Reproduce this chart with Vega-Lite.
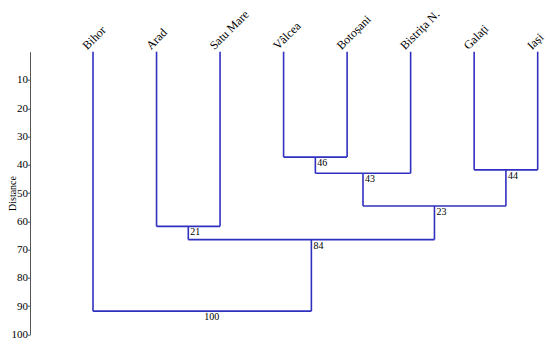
{
  "$schema": "https://vega.github.io/schema/vega-lite/v6.json",
  "width": 520,
  "height": 282.6,
  "autosize": "none",
  "padding": {"left": 30, "top": 51.7, "right": 0, "bottom": 9.7},
  "config": {
    "view": {"stroke": null},
    "font": "Liberation Serif",
    "text": {"font": "Liberation Serif"},
    "axisY": {
      "titleFont": "Liberation Serif",
      "titleFontSize": 10,
      "titleFontWeight": "normal",
      "titleColor": "#000",
      "titleX": -17.5,
      "titleY": 141.3,
      "titleAngle": 270,
      "titleAlign": "center",
      "titleBaseline": "middle",
      "labelFont": "Liberation Serif",
      "labelFontSize": 11,
      "labelColor": "#000",
      "labelOverlap": false,
      "labelBound": false,
      "labelFlush": false,
      "labelPadding": 0,
      "tickSize": 2.5,
      "tickColor": "#555",
      "domainColor": "#555",
      "grid": false
    }
  },
  "datasets": {
    "segments": [
      {"x1": 0, "x2": 0, "y1": 0, "y2": 91.8},
      {"x1": 1, "x2": 1, "y1": 0, "y2": 61.8},
      {"x1": 2, "x2": 2, "y1": 0, "y2": 61.8},
      {"x1": 3, "x2": 3, "y1": 0, "y2": 37.3},
      {"x1": 4, "x2": 4, "y1": 0, "y2": 37.3},
      {"x1": 5, "x2": 5, "y1": 0, "y2": 43.0},
      {"x1": 6, "x2": 6, "y1": 0, "y2": 41.8},
      {"x1": 7, "x2": 7, "y1": 0, "y2": 41.8},
      {"x1": 3, "x2": 4, "y1": 37.3, "y2": 37.3},
      {"x1": 3.5, "x2": 3.5, "y1": 37.3, "y2": 43.0},
      {"x1": 3.5, "x2": 5, "y1": 43.0, "y2": 43.0},
      {"x1": 4.25, "x2": 4.25, "y1": 43.0, "y2": 54.6},
      {"x1": 6, "x2": 7, "y1": 41.8, "y2": 41.8},
      {"x1": 6.5, "x2": 6.5, "y1": 41.8, "y2": 54.6},
      {"x1": 4.25, "x2": 6.5, "y1": 54.6, "y2": 54.6},
      {"x1": 5.375, "x2": 5.375, "y1": 54.6, "y2": 66.5},
      {"x1": 1, "x2": 2, "y1": 61.8, "y2": 61.8},
      {"x1": 1.5, "x2": 1.5, "y1": 61.8, "y2": 66.5},
      {"x1": 1.5, "x2": 5.375, "y1": 66.5, "y2": 66.5},
      {"x1": 3.4375, "x2": 3.4375, "y1": 66.5, "y2": 91.8},
      {"x1": 0, "x2": 3.4375, "y1": 91.8, "y2": 91.8}
    ],
    "nodes": [
      {"x": 3.5, "y": 37.3, "label": "46"},
      {"x": 4.25, "y": 43.0, "label": "43"},
      {"x": 6.5, "y": 41.8, "label": "44"},
      {"x": 5.375, "y": 54.6, "label": "23"},
      {"x": 1.5, "y": 61.8, "label": "21"},
      {"x": 3.4375, "y": 66.5, "label": "84"},
      {"x": 1.71875, "y": 91.8, "label": "100"}
    ],
    "leaves": [
      {"x": 0, "name": "Bihor"},
      {"x": 1, "name": "Arad"},
      {"x": 2, "name": "Satu Mare"},
      {"x": 3, "name": "Vâlcea"},
      {"x": 4, "name": "Botoșani"},
      {"x": 5, "name": "Bistrița N."},
      {"x": 6, "name": "Galați"},
      {"x": 7, "name": "Iași"}
    ]
  },
  "layer": [
    {
      "data": {"name": "segments"},
      "mark": {"type": "rule", "color": "#3030c0", "strokeWidth": 1.6},
      "encoding": {
        "x": {"field": "x1", "type": "quantitative", "scale": {"domain": [-0.992, 7.194], "nice": false, "zero": false}, "axis": null},
        "x2": {"field": "x2"},
        "y": {
          "field": "y1", "type": "quantitative",
          "scale": {"domain": [0, 100], "reverse": true, "nice": false, "zero": false},
          "axis": {"title": "Distance", "values": [10, 20, 30, 40, 50, 60, 70, 80, 90, 100]}
        },
        "y2": {"field": "y2"}
      }
    },
    {
      "data": {"name": "nodes"},
      "mark": {"type": "text", "font": "Liberation Serif", "align": "left", "baseline": "top", "dx": 2, "dy": 1, "fontSize": 10, "color": "#000"},
      "encoding": {
        "x": {"field": "x", "type": "quantitative", "axis": null},
        "y": {"field": "y", "type": "quantitative", "axis": {"title": "Distance", "values": [10, 20, 30, 40, 50, 60, 70, 80, 90, 100]}},
        "text": {"field": "label"}
      }
    },
    {
      "data": {"name": "leaves"},
      "mark": {"type": "text", "font": "Liberation Serif", "angle": 315, "align": "left", "baseline": "alphabetic", "dx": -3, "dy": -5, "fontSize": 12, "color": "#000"},
      "encoding": {
        "x": {"field": "x", "type": "quantitative", "axis": null},
        "y": {"datum": 0, "type": "quantitative", "axis": {"title": "Distance", "values": [10, 20, 30, 40, 50, 60, 70, 80, 90, 100]}},
        "text": {"field": "name"}
      }
    }
  ]
}
